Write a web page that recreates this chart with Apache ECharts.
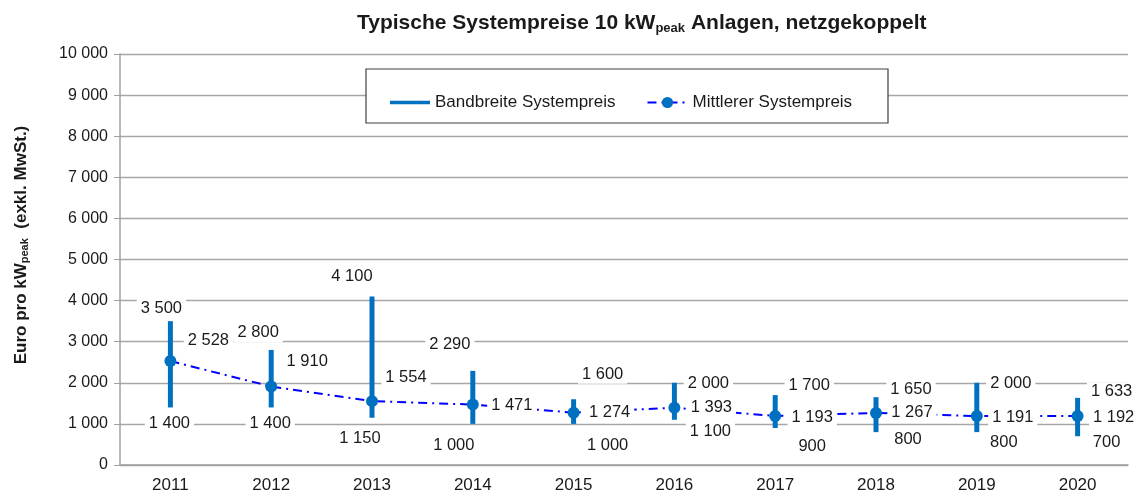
<!DOCTYPE html>
<html>
<head>
<meta charset="utf-8">
<script src="https://cdn.jsdelivr.net/npm/echarts@6/dist/echarts.min.js"></script>
<style>html,body{margin:0;padding:0;background:#fff}#c{width:1143px;height:497px}</style>
</head>
<body>
<div id="c"></div>
<script>
// ---- data ----
const years = ['2011','2012','2013','2014','2015','2016','2017','2018','2019','2020'];
const priceMin  = [1400, 1400, 1150, 1000, 1000, 1100,  900,  800,  800,  700];
const priceMax  = [3500, 2800, 4100, 2290, 1600, 2000, 1700, 1650, 2000, 1633];
const priceMean = [2528, 1910, 1554, 1471, 1274, 1393, 1193, 1267, 1191, 1192];
const yTicks = [0,1000,2000,3000,4000,5000,6000,7000,8000,9000,10000];

// ---- label nudges (layout only, pixels) ----
const maxNudge  = [[-9,-13],[-13,-17],[-20,-20],[-23,-26],[29,-25],[34,1],[34,-10],[35,-8],[34,1],[34,-6]];
const meanNudge = [[38,-21],[36,-25],[34,-24],[39,1],[36,0],[37,0],[37,1],[36,0],[36,1],[36,1]];
const minNudge  = [[-1,16],[-1,16],[-12,21],[-19,22],[34,22],[36,12],[37,18],[32,7],[27,10],[29,6]];

const fmt = v => String(v).replace(/\B(?=(\d{3})+(?!\d))/g, ' ');
const FONT = 'Liberation Sans, Arial, sans-serif';
const labelBase = {
  show: true, position: 'inside', fontSize: 16.5, fontFamily: FONT, color: '#1a1a1a',
  backgroundColor: '#fff', padding: [1, 4], align: 'center', verticalAlign: 'middle'
};
function labelled(vals, nudges) {
  return vals.map((v, i) => ({
    value: v,
    label: Object.assign({}, labelBase, { offset: nudges[i], formatter: fmt(v) })
  }));
}

const chart = echarts.init(document.getElementById('c'));
chart.setOption({
  animation: false,
  backgroundColor: '#fff',
  title: {
    text: 'Typische Systempreise 10 kW{sub|peak} Anlagen, netzgekoppelt',
    left: 352, top: 7,
    textStyle: {
      fontFamily: FONT, fontWeight: 'bold', fontSize: 21, color: '#1a1a1a',
      rich: { sub: { fontFamily: FONT, fontWeight: 'bold', fontSize: 13, color: '#1a1a1a', padding: [10, 0, 0, 0] } }
    }
  },
  graphic: [
    { type: 'rect', z: 5, shape: { x: 366, y: 69, width: 522, height: 54 },
      style: { fill: '#fff', stroke: '#404040', lineWidth: 1.2 } },
    { type: 'text', z: 5, x: 21, y: 245, rotation: Math.PI / 2,
      style: {
        text: 'Euro pro kW{sub|peak}  (exkl. MwSt.)', fill: '#1a1a1a',
        font: 'bold 17px ' + FONT, align: 'center', verticalAlign: 'middle',
        rich: { sub: { font: 'bold 11px ' + FONT, fill: '#1a1a1a', padding: [8, 0, 0, 0] } }
      } }
  ],
  legend: {
    z: 10, left: 385, top: 89, itemWidth: 40, itemHeight: 14, itemGap: 31,
    textStyle: { fontFamily: FONT, fontSize: 17, color: '#1a1a1a' },
    data: [
      { name: 'Bandbreite Systempreis', icon: 'path://M0,0 L45,0 L45,4 L0,4 Z' },
      { name: 'Mittlerer Systempreis' }
    ]
  },
  grid: { left: 120, right: 15, top: 54, bottom: 32 },
  xAxis: {
    type: 'category', data: years, boundaryGap: true,
    axisLine: { lineStyle: { color: '#a0a0a0', width: 1.5 } },
    axisTick: { show: false },
    axisLabel: { fontFamily: FONT, fontSize: 17, color: '#1a1a1a', margin: 12 },
    splitLine: { show: false }
  },
  yAxis: {
    type: 'value', min: yTicks[0], max: yTicks[yTicks.length - 1], interval: 1000,
    axisLine: { show: true, lineStyle: { color: '#a0a0a0', width: 1.5 } },
    axisTick: { show: true, length: 6, lineStyle: { color: '#a0a0a0' } },
    axisLabel: { fontFamily: FONT, fontSize: 16, color: '#1a1a1a', margin: 12, formatter: v => fmt(v) },
    splitLine: { lineStyle: { color: '#a6a6a6', width: 1.3 } }
  },
  series: [
    {
      name: 'Bandbreite Systempreis', type: 'custom', z: 3,
      itemStyle: { color: '#0070C0' },
      data: years.map((y, i) => [i, priceMin[i], priceMax[i]]),
      encode: { x: 0, y: [1, 2] },
      renderItem: (params, api) => {
        const lo = api.coord([api.value(0), api.value(1)]);
        const hi = api.coord([api.value(0), api.value(2)]);
        return { type: 'line', shape: { x1: lo[0], y1: lo[1], x2: hi[0], y2: hi[1] },
                 style: { stroke: '#0070C0', lineWidth: 5 } };
      }
    },
    {
      name: 'Mittlerer Systempreis', type: 'line', z: 4,
      data: labelled(priceMean, meanNudge),
      symbol: 'circle', symbolSize: 12,
      itemStyle: { color: '#0070C0' },
      lineStyle: { color: '#0000FF', width: 2, type: [9, 5, 2, 5] }
    },
    {
      name: 'maxLabels', type: 'scatter', z: 5, symbolSize: 0, silent: true,
      itemStyle: { opacity: 1 },
      data: labelled(priceMax, maxNudge)
    },
    {
      name: 'minLabels', type: 'scatter', z: 5, symbolSize: 0, silent: true,
      itemStyle: { opacity: 1 },
      data: labelled(priceMin, minNudge)
    }
  ]
});
</script>
</body>
</html>
